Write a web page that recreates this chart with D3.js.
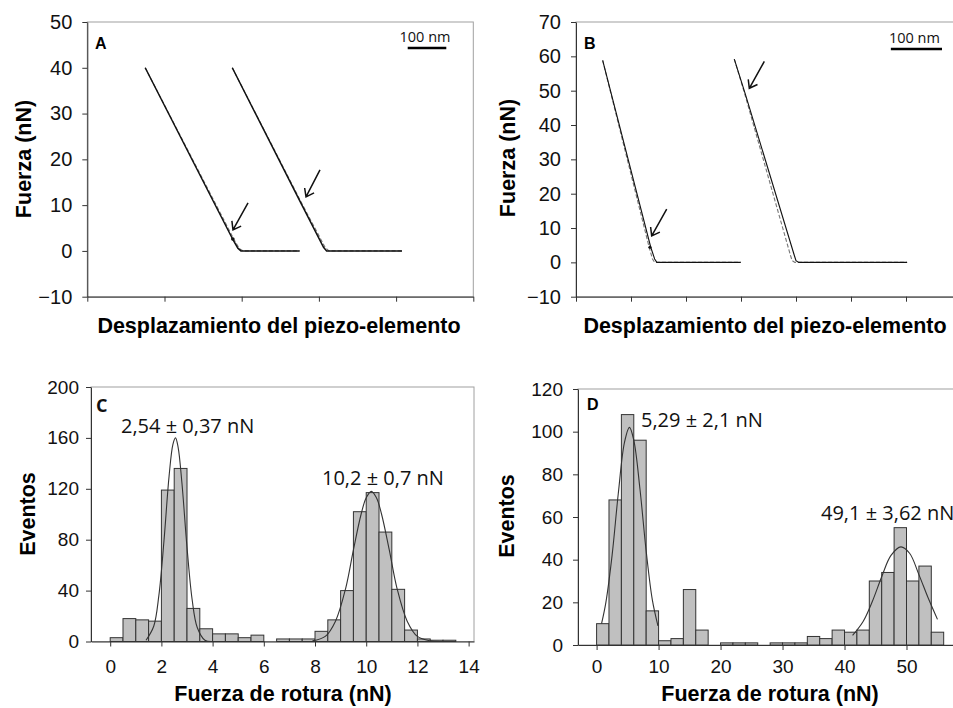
<!DOCTYPE html>
<html lang="es">
<head>
<meta charset="UTF-8">
<title>Fuerza de rotura</title>
<script src="https://d3js.org/d3.v7.min.js"></script>
<style>
  body { margin: 0; background: #fff; }
  svg { display: block; font-family: "Liberation Sans", Arial, sans-serif; }
  .title { font-family: "Liberation Sans", Arial, sans-serif; font-weight: bold; font-size: 21.5px; fill: #000; }
  .note { font-family: "Open Sans", sans-serif; fill: #111; }
</style>
</head>
<body>
<div id="chart"></div>
<script>
// ---- Panel A: force curves (x in axis divisions, y in nN)
const aRetract1 = [[0.75, 40], [1.885, 2.5], [1.95, 0.6], [1.99, 0], [2.75, 0]];
const aApproach1 = [[0.75, 40], [1.90, 2.5], [1.97, 0.5], [2.02, 0], [2.75, 0]];
const aRetract2 = [[1.878, 40], [2.777, 10.1], [3.06, 0.8], [3.10, 0], [4.077, 0]];
const aApproach2 = [[1.878, 40], [2.79, 10], [3.08, 0.8], [3.13, 0], [4.077, 0]];
const aRupture = [[1.885, 2.6]];
const aArrows = [[2.082, 10.5, 1.887, 4.6], [3.014, 17.7, 2.833, 11.8]];
const aYTicks = [-10, 0, 10, 20, 30, 40, 50];
const aXTicks = [0, 1, 2, 3, 4, 5];

// ---- Panel B
const bRetract1 = [[0.485, 58.8], [1.359, 4.4], [1.43, 1], [1.47, 0], [2.995, 0]];
const bApproach1 = [[0.485, 58.8], [1.33, 4.4], [1.39, 1], [1.43, 0], [2.995, 0]];
const bRetract2 = [[2.878, 59.2], [3.073, 49.3], [3.97, 2], [4.0, 0.5], [4.05, 0], [6.02, 0]];
const bApproach2 = [[2.878, 59.2], [3.06, 49.5], [3.90, 2], [3.93, 0.5], [3.98, 0], [6.02, 0]];
const bRupture = [[1.345, 4.4]];
const bArrows = [[1.649, 15.5, 1.376, 7.7], [3.424, 58.5, 3.151, 50.7]];
const bYTicks = [-10, 0, 10, 20, 30, 40, 50, 60, 70];
const bXTicks = [0, 1, 2, 3, 4, 5, 6, 7];

// ---- Panel C: histogram, bins of 0.5 nN starting at 0
const cBinWidth = 0.5;
const cCounts = [3, 18, 17, 16, 119, 136, 26, 10, 6, 6, 3, 5, 0, 2, 2, 2, 8, 17, 40, 102, 117, 86, 41, 9, 2, 1, 1];
const cFit1 = [[1.4, 1], [1.7, 12], [1.9, 36], [2.1, 79], [2.3, 130], [2.45, 155], [2.55, 160], [2.65, 153], [2.8, 125], [3.0, 74], [3.2, 33], [3.4, 11], [3.7, 1], [4.0, 0]];
const cFit2 = [[7.9, 0.5], [8.4, 4], [8.8, 16], [9.2, 42], [9.5, 72], [9.8, 100], [10.0, 113], [10.2, 118], [10.4, 113], [10.6, 100], [10.9, 72], [11.2, 42], [11.6, 16], [12.0, 4], [12.5, 0.5], [13.0, 0], [13.5, 0]];
const cYTicks = [0, 40, 80, 120, 160, 200];
const cXTicks = [0, 2, 4, 6, 8, 10, 12, 14];

// ---- Panel D: histogram, bins of 2 nN starting at 0
const dBinWidth = 2;
const dCounts = [10, 68, 108, 96, 16, 2, 3, 26, 7, 0, 1, 1, 1, 0, 1, 1, 1, 4, 3, 7, 6, 7, 30, 34, 55, 30, 37, 6];
const dFit1 = [[0.8, 10], [1.5, 20], [2.5, 42], [3.5, 71], [4.5, 95], [5.3, 102], [6.0, 96], [7.0, 73], [8.0, 44], [9.0, 21], [9.9, 9]];
const dFit2 = [[41.3, 4.5], [43, 11], [44.5, 20.5], [46, 32], [47.5, 42], [49.1, 46], [50.5, 43], [52, 33], [53.5, 22], [55, 12]];
const dYTicks = [0, 20, 40, 60, 80, 100, 120];
const dXTicks = [0, 10, 20, 30, 40, 50];

const W = 953, H = 708;
const svg = d3.select("#chart").append("svg").attr("width", W).attr("height", H);

function makePanel(box, xDom, yDom) {
    const x = d3.scaleLinear().domain(xDom).range([box.left, box.right]);
    const y = d3.scaleLinear().domain(yDom).range([box.bottom, box.top]);
    const g = svg.append("g");
    g.append("rect")
        .attr("x", box.left).attr("y", box.top)
        .attr("width", box.right - box.left).attr("height", box.bottom - box.top)
        .attr("fill", "none").attr("stroke", "#a0a0a0");
    return { g, x, y, box };
}

function drawAxes(p, xTicks, yTicks, opts) {
    const yAx = p.g.append("g")
        .attr("transform", `translate(${p.box.left},0)`)
        .call(d3.axisLeft(p.y).tickValues(yTicks).tickSize(5).tickSizeOuter(0).tickPadding(opts.yPad));
    const xAx = p.g.append("g")
        .attr("transform", `translate(0,${p.y(opts.xAt)})`)
        .call(d3.axisBottom(p.x).tickValues(xTicks).tickSize(5).tickSizeOuter(0).tickPadding(opts.xPad)
            .tickFormat(opts.xLabels ? d3.format("d") : ""));
    [yAx, xAx].forEach(a => {
        a.select(".domain").attr("stroke", "#333");
        a.selectAll(".tick line").attr("stroke", "#333");
        a.selectAll("text")
            .attr("font-family", "'Liberation Sans', Arial, sans-serif")
            .attr("font-size", opts.fontSize).attr("fill", "#111");
    });
    if (opts.xAt !== p.y.domain()[0]) {
        xAx.select(".domain").attr("d", `M${p.box.left},0H${p.box.right}`);
    }
}

function drawCurve(p, pts, dashed, w) {
    const line = d3.line().x(d => p.x(d[0])).y(d => p.y(d[1]));
    p.g.append("path").datum(pts)
        .attr("d", line)
        .attr("fill", "none")
        .attr("stroke", dashed ? "#777" : "#111")
        .attr("stroke-width", dashed ? 1.1 : w)
        .attr("stroke-dasharray", dashed ? "4,2" : null);
}

function drawArrows(p, arrows) {
    arrows.forEach(a => {
        const x1 = p.x(a[0]), y1 = p.y(a[1]), x2 = p.x(a[2]), y2 = p.y(a[3]);
        const ang = Math.atan2(y2 - y1, x2 - x1), L = 9, sp = Math.PI / 5;
        const d = `M${x1},${y1}L${x2},${y2}` +
            `M${x2 - L * Math.cos(ang - sp)},${y2 - L * Math.sin(ang - sp)}L${x2},${y2}` +
            `L${x2 - L * Math.cos(ang + sp)},${y2 - L * Math.sin(ang + sp)}`;
        p.g.append("path").attr("d", d).attr("fill", "none").attr("stroke", "#111").attr("stroke-width", 1.5);
    });
}

function drawScaleBar(p, len, dx, dy) {
    const xr = p.box.right - dx, yb = p.box.top + dy;
    const xl = xr - (p.x(len) - p.x(0));
    p.g.append("line").attr("x1", xl).attr("x2", xr).attr("y1", yb).attr("y2", yb)
        .attr("stroke", "#000").attr("stroke-width", 2.5);
    p.g.append("text").attr("class", "note")
        .attr("x", (xl + xr) / 2 - 2).attr("y", yb - 6.5)
        .attr("text-anchor", "middle").attr("font-size", 14.5)
        .text("100 nm");
}

function drawHist(p, counts, bw) {
    p.g.selectAll(null)
        .data(counts.map((c, i) => ({ x0: i * bw, c })).filter(d => d.c > 0))
        .enter().append("rect")
        .attr("x", d => p.x(d.x0))
        .attr("width", d => p.x(d.x0 + bw) - p.x(d.x0))
        .attr("y", d => p.y(d.c))
        .attr("height", d => p.y(0) - p.y(d.c))
        .attr("fill", "#c0c0c0").attr("stroke", "#333").attr("stroke-width", 1);
}

function drawFit(p, pts) {
    p.g.append("path").datum(pts)
        .attr("d", d3.line().x(d => p.x(d[0])).y(d => p.y(d[1])).curve(d3.curveCatmullRom))
        .attr("fill", "none").attr("stroke", "#333").attr("stroke-width", 1.1);
}

function label(text, x, y, opts) {
    const t = svg.append("text").attr("x", x).attr("y", y).text(text);
    if (opts.cls) t.attr("class", opts.cls);
    if (opts.size) t.attr("font-size", opts.size);
    if (opts.bold) t.attr("font-weight", "bold");
    if (opts.anchor) t.attr("text-anchor", opts.anchor);
    if (opts.rotate) t.attr("transform", `rotate(-90,${x},${y})`);
    return t;
}

// ---------- Panel A
const pA = makePanel({ left: 87.3, right: 473.3, top: 22, bottom: 296.7 }, [0, 5], [-10, 50]);
drawAxes(pA, aXTicks, aYTicks, { yPad: 10, xPad: 4, xAt: -10, xLabels: false, fontSize: 20 });
drawCurve(pA, aApproach1, true);
drawCurve(pA, aApproach2, true);
drawCurve(pA, aRetract1, false, 1.5);
drawCurve(pA, aRetract2, false, 1.5);
pA.g.selectAll(null).data(aRupture).enter().append("circle")
    .attr("cx", d => pA.x(d[0])).attr("cy", d => pA.y(d[1])).attr("r", 1.8).attr("fill", "#111");
drawArrows(pA, aArrows);
drawScaleBar(pA, 0.5, 27, 26);
label("A", 95, 49, { bold: true, size: 16 });
label("Fuerza (nN)", 31, 159, { cls: "title", anchor: "middle", rotate: true });
label("Desplazamiento del piezo-elemento", 279, 333, { cls: "title", anchor: "middle" });

// ---------- Panel B
const pB = makePanel({ left: 576, right: 961, top: 22, bottom: 296.7 }, [0, 7], [-10, 70]);
drawAxes(pB, bXTicks, bYTicks, { yPad: 10, xPad: 4, xAt: -10, xLabels: false, fontSize: 20 });
drawCurve(pB, bApproach1, true);
drawCurve(pB, bApproach2, true);
drawCurve(pB, bRetract1, false, 1.1);
drawCurve(pB, bRetract2, false, 1.1);
pB.g.selectAll(null).data(bRupture).enter().append("circle")
    .attr("cx", d => pB.x(d[0])).attr("cy", d => pB.y(d[1])).attr("r", 1.6).attr("fill", "#111");
drawArrows(pB, bArrows);
drawScaleBar(pB, 0.93, 19, 27);
label("B", 584, 49, { bold: true, size: 16 });
label("Fuerza (nN)", 515, 158, { cls: "title", anchor: "middle", rotate: true });
label("Desplazamiento del piezo-elemento", 765, 333, { cls: "title", anchor: "middle" });

// ---------- Panel C
const pC = makePanel({ left: 91, right: 474, top: 387, bottom: 641.5 }, [-0.75, 14.21], [0, 200]);
drawHist(pC, cCounts, cBinWidth);
drawFit(pC, cFit1);
drawFit(pC, cFit2);
drawAxes(pC, cXTicks, cYTicks, { yPad: 7, xPad: 13, xAt: 0, xLabels: true, fontSize: 19 });
label("C", 96, 412, { cls: "note", bold: true, size: 18 });
label("2,54 ± 0,37 nN", 121, 433, { cls: "note", size: 20 });
label("10,2 ± 0,7 nN", 322, 485, { cls: "note", size: 20 });
label("Eventos", 35, 514, { cls: "title", anchor: "middle", rotate: true }).attr("font-size", 19.5);
label("Fuerza de rotura (nN)", 283, 701, { cls: "title", anchor: "middle" });

// ---------- Panel D
const pD = makePanel({ left: 578, right: 966, top: 389, bottom: 645 }, [-3.0, 59.6], [0, 120]);
drawHist(pD, dCounts, dBinWidth);
drawFit(pD, dFit1);
drawFit(pD, dFit2);
drawAxes(pD, dXTicks, dYTicks, { yPad: 10, xPad: 10, xAt: 0, xLabels: true, fontSize: 19 });
label("D", 587, 410, { bold: true, size: 16 });
label("5,29 ± 2,1 nN", 641, 427, { cls: "note", size: 20 });
label("49,1 ± 3,62 nN", 821, 520, { cls: "note", size: 20 });
label("Eventos", 514, 516, { cls: "title", anchor: "middle", rotate: true }).attr("font-size", 19.5);
label("Fuerza de rotura (nN)", 770, 701, { cls: "title", anchor: "middle" });
</script>
</body>
</html>
